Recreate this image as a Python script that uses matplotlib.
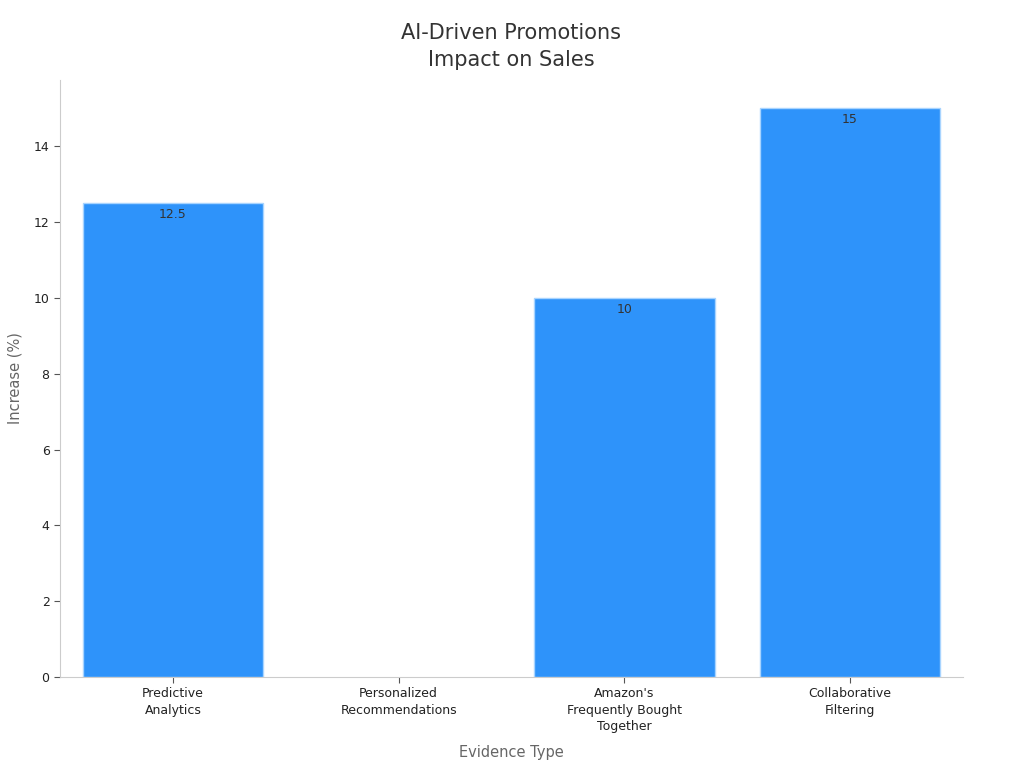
import matplotlib
matplotlib.use("Agg")
import matplotlib.pyplot as plt
import numpy as np

categories = ["Predictive\nAnalytics", "Personalized\nRecommendations",
              "Amazon's\nFrequently Bought\nTogether", "Collaborative\nFiltering"]
values = [12.5, np.nan, 10, 15]
labels = ["12.5", "", "10", "15"]

plt.rcParams['font.family'] = ['DejaVu Sans']
fig = plt.figure(figsize=(10.24, 7.68), dpi=100)
ax = fig.add_axes([0.0586, 0.1185, 0.8818, 0.7773])

x = np.arange(len(categories))
bars = ax.bar(x, values, width=0.8, color="#2E93FA", edgecolor="#A8D4FF", linewidth=1)
for xi, v, lab in zip(x, values, labels):
    if not np.isnan(v):
        ax.text(xi, v - 0.12, lab, ha="center", va="top", fontsize=9, color="#333333")

ax.set_xlim(-0.5, 3.5)
ax.set_ylim(0, 15.75)
ax.set_yticks([0, 2, 4, 6, 8, 10, 12, 14])
ax.set_xticks(x)
ax.set_xticklabels(categories, fontsize=9, color="#222222", linespacing=1.35)
ax.tick_params(axis="y", labelsize=9, labelcolor="#222222", color="#555555", length=4)
ax.tick_params(axis="x", color="#555555", length=4)
for s in ["top", "right"]:
    ax.spines[s].set_visible(False)
for s in ["left", "bottom"]:
    ax.spines[s].set_color("#CCCCCC")

ax.set_xlabel("Evidence Type", fontsize=10.5, color="#666666", labelpad=8)
ax.set_ylabel("Increase (%)", fontsize=10.5, color="#666666", labelpad=8)
ax.set_title("AI-Driven Promotions\nImpact on Sales", fontsize=15, color="#333333",
             pad=10, linespacing=1.45)

fig.savefig("out.png", dpi=100)
